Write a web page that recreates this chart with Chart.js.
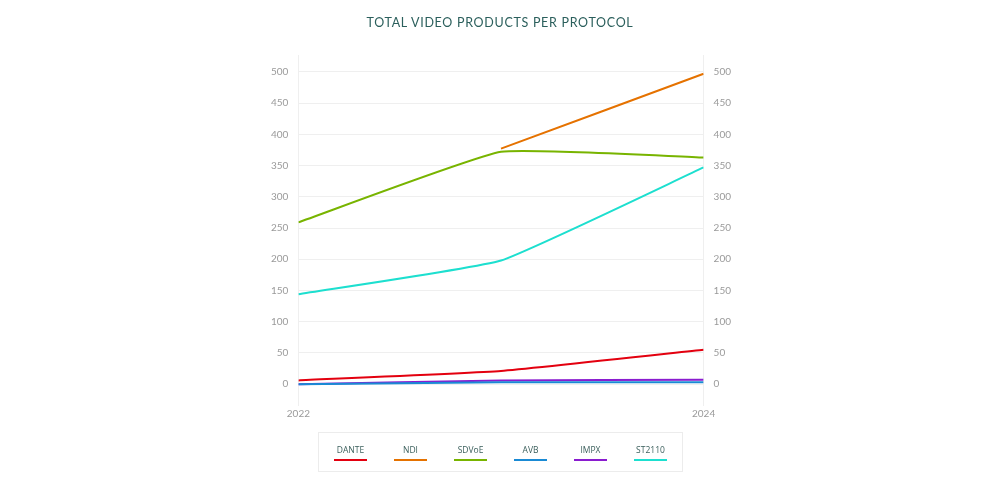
<!DOCTYPE html>
<html>
<head>
<meta charset="utf-8">
<script src="https://cdn.jsdelivr.net/npm/chart.js@4.4.1/dist/chart.umd.min.js"></script>
<style>
    html, body { margin: 0; padding: 0; background: #fff; }
    #wrap { position: relative; width: 1000px; height: 500px; }
    #title {
        position: absolute; top: 15px; left: 0; width: 1000px; text-align: center;
        font-family: Lato, sans-serif; font-size: 12.5px; letter-spacing: 0.7px;
        color: #2b5f5c;
    }
    #legend {
        position: absolute; left: 318px; top: 432px; width: 363px; height: 38px;
        border: 1px solid #ececec; display: flex; justify-content: center; align-items: center;
    }
    .item { width: 60px; text-align: center; font-family: "Open Sans", sans-serif; font-size: 8.5px; color: #3b5f5c; }
    .item span { display: block; width: 33px; height: 2px; margin: 4px auto 0; }
</style>
</head>
<body>
<div id="wrap">
    <div id="title">TOTAL VIDEO PRODUCTS PER PROTOCOL</div>
    <canvas id="protocolChart" width="1000" height="500"></canvas>
    <div id="legend"></div>
</div>
<script>
// data
const years = [2022, 2023, 2024];
const dante = [6, 21, 55];
const ndi = [null, 377, 497];
const sdvoe = [259, 372, 363];
const avb = [0, 3, 3];
const impx = [0, 6, 7];
const st2110 = [144, 198, 347];
const yTicks = [0, 50, 100, 150, 200, 250, 300, 350, 400, 450, 500];

const series = [
    { label: 'DANTE', values: dante, color: '#e3000f' },
    { label: 'NDI', values: ndi, color: '#e57200' },
    { label: 'SDVoE', values: sdvoe, color: '#78b400' },
    { label: 'AVB', values: avb, color: '#1a8ad4' },
    { label: 'IMPX', values: impx, color: '#8a1ccf' },
    { label: 'ST2110', values: st2110, color: '#1ddfcf' }
];

function yAxis(position) {
    return {
        position: position,
        min: -35,
        max: 527,
        afterBuildTicks: axis => { axis.ticks = yTicks.map(v => ({ value: v })); },
        grid: { display: position === 'left', color: '#efefef', drawTicks: false },
        border: { display: false },
        ticks: { color: '#9a9a9a', padding: 10, font: { family: 'Lato', size: 10 } }
    };
}

const ctx = document.getElementById('protocolChart').getContext('2d');
const chart = new Chart(ctx, {
    type: 'line',
    data: {
        datasets: series.map(s => ({
            label: s.label,
            data: years.map((yr, i) => ({ x: yr, y: s.values[i] })),
            borderColor: s.color,
            backgroundColor: s.color,
            borderWidth: 2,
            pointRadius: 0,
            tension: 0.12,
            yAxisID: 'y'
        })).concat([{ data: [], yAxisID: 'y2' }])
    },
    options: {
        responsive: false,
        animation: false,
        layout: { padding: { left: 261, right: 259, top: 55, bottom: 78 } },
        plugins: { legend: { display: false }, tooltip: { enabled: false } },
        scales: {
            x: {
                type: 'linear',
                min: 2022,
                max: 2024,
                afterBuildTicks: axis => { axis.ticks = [{ value: 2022 }, { value: 2024 }]; },
                grid: { color: '#efefef', drawTicks: false },
                border: { display: false },
                ticks: { color: '#9a9a9a', padding: 2, font: { family: 'Lato', size: 10 }, callback: v => String(v) }
            },
            y: yAxis('left'),
            y2: yAxis('right')
        }
    }
});

// html legend from the chart's datasets
const legend = document.getElementById('legend');
chart.data.datasets.filter(d => d.label).forEach(d => {
    const el = document.createElement('div');
    el.className = 'item';
    el.innerHTML = d.label + '<span style="background:' + d.borderColor + '"></span>';
    legend.appendChild(el);
});
</script>
</body>
</html>
